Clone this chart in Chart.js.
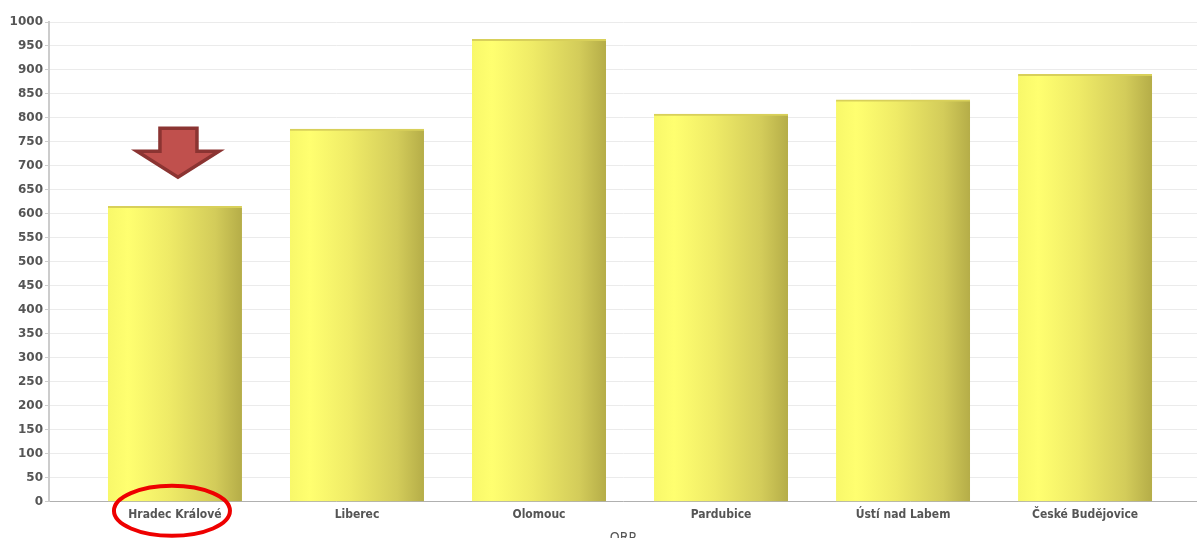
<!DOCTYPE html>
<html><head><meta charset="utf-8">
<script src="https://cdn.jsdelivr.net/npm/chart.js@4/dist/chart.umd.min.js"></script>
<style>html,body{margin:0;padding:0;background:#fff;}#wrap{width:1197px;height:538px;}</style>
</head><body><div id="wrap"><canvas id="c" width="1197" height="538"></canvas></div>
<script>
const categories = ["Hradec Králové","Liberec","Olomouc","Pardubice","Ústí nad Labem","České Budějovice"];
const values = [616, 777, 964, 808, 838, 891];
const yTicks = [0,50,100,150,200,250,300,350,400,450,500,550,600,650,700,750,800,850,900,950,1000];
const axisTitle = "ORP";
const highlightIndex = 0;

const BAR_W = 134;
const ctx = document.getElementById('c').getContext('2d');
function barGradient(context){
  const chart = context.chart;
  const xs = chart.scales && chart.scales.x;
  if(!xs || context.dataIndex === undefined || !chart.chartArea) return '#ffff70';
  const cx = xs.getPixelForValue(context.dataIndex);
  if(!isFinite(cx)) return '#ffff70';
  const x0 = cx - BAR_W/2, x1 = cx + BAR_W/2;
  const g = chart.ctx.createLinearGradient(x0,0,x1,0);
  g.addColorStop(0,'#f8f86a');
  g.addColorStop(0.15,'#ffff70');
  g.addColorStop(0.45,'#efeb67');
  g.addColorStop(0.8,'#d3cc5a');
  g.addColorStop(1,'#b5ad48');
  return g;
}
const annot = {
  id:'annot',
  afterDatasetsDraw(chart){
    const c = chart.ctx, xs = chart.scales.x, ys = chart.scales.y;
    const cx = xs.getPixelForValue(highlightIndex) + 3;
    const top = ys.getPixelForValue(values[highlightIndex]);
    const tipY = top - 29, baseY = top - 78;
    c.save();
    c.beginPath();
    c.moveTo(cx-18, baseY);
    c.lineTo(cx+19, baseY);
    c.lineTo(cx+19, baseY+23);
    c.lineTo(cx+41, baseY+23);
    c.lineTo(cx, tipY);
    c.lineTo(cx-41, baseY+23);
    c.lineTo(cx-18, baseY+23);
    c.closePath();
    c.fillStyle='#c0504d';
    c.fill();
    c.lineWidth=3.5;
    c.strokeStyle='#8b3432';
    c.lineJoin='miter';
    c.stroke();
    c.restore();
  },
  afterDraw(chart){
    const c = chart.ctx, xs = chart.scales.x, ys = chart.scales.y;
    const cx = xs.getPixelForValue(highlightIndex) - 3;
    const cy = ys.getPixelForValue(0) + 9;
    c.save();
    c.beginPath();
    c.ellipse(cx, cy, 58, 25, 0, 0, Math.PI*2);
    c.lineWidth=4;
    c.strokeStyle='#ee0000';
    c.stroke();
    c.restore();
  }
};
new Chart(ctx,{
  type:'bar',
  data:{datasets:[{
    data: values.map((v,i)=>({x:i,y:v})),
    backgroundColor: barGradient,
    borderColor:'#d8d05a',
    borderWidth:{top:2,left:0,right:0,bottom:0},
    borderSkipped:false,
    barThickness:BAR_W
  }]},
  options:{
    responsive:false,
    animation:false,
    layout:{padding:{top:22,right:0,left:0,bottom:-9}},
    plugins:{legend:{display:false},tooltip:{enabled:false}},
    scales:{
      x:{
        type:'linear',
        offset:false,
        min:-0.692, max:5.615,
        afterBuildTicks(s){ s.ticks = categories.map((_,i)=>({value:i})); },
        ticks:{
          autoSkip:false, maxRotation:0,
          callback:(v)=>categories[v],
          color:'#555',
          font:{family:'DejaVu Sans Condensed',size:12,weight:'bold'},
          padding:6
        },
        grid:{display:false, drawTicks:false, offset:false},
        border:{color:'#b0b0b0',width:1},
        title:{display:true,text:axisTitle,color:'#555',font:{family:'DejaVu Sans Condensed',size:14},padding:{top:2,bottom:0}}
      },
      y:{
        min:0,max:1000,
        afterBuildTicks(s){ s.ticks = yTicks.map(v=>({value:v})); },
        afterFit(s){ s.width = 49; },
        ticks:{color:'#555',font:{family:'DejaVu Sans',size:12,weight:'bold'},padding:2,callback:(v)=>String(v)},
        grid:{color:'#ebebeb',lineWidth:1,drawTicks:true,tickLength:4,tickColor:'#ccc'},
        border:{color:'#cccccc',width:2}
      }
    }
  },
  plugins:[annot]
});
</script></body></html>
